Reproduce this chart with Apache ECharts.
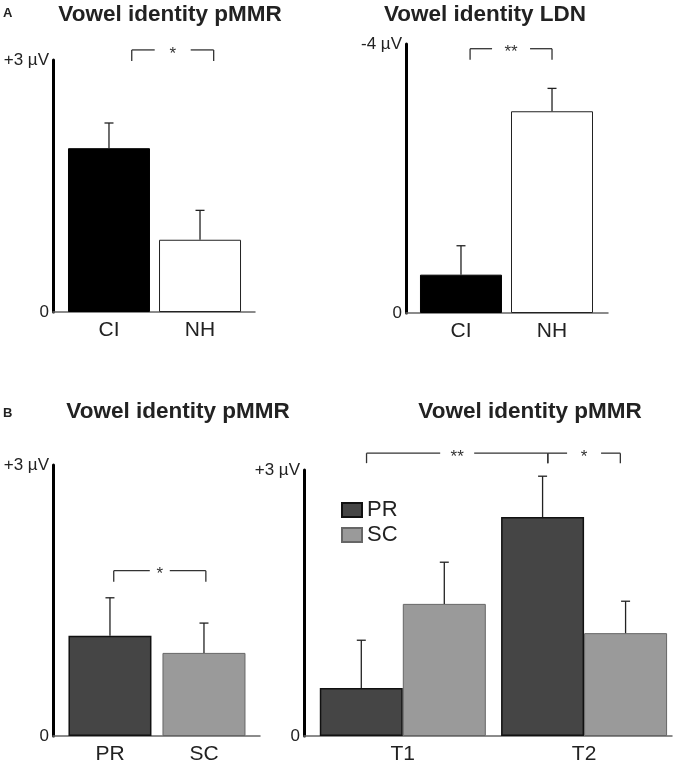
<!DOCTYPE html>
<html>
<head>
<meta charset="utf-8">
<script src="https://cdn.jsdelivr.net/npm/echarts@6/dist/echarts.min.js"></script>
<style>html,body{margin:0;padding:0;background:#fff}#c{width:675px;height:770px}</style>
</head>
<body>
<div id="c"></div>
<script>
// ---- data ----
const groupCats = ['CI', 'NH'];
const pmmrGroup = [1.95, 0.86];
const pmmrGroupErr = [0.30, 0.35];
const ldnGroup = [-0.57, -3.0];
const ldnGroupErr = [0.43, 0.34];
const trainCats = ['PR', 'SC'];
const pmmrTrain = [1.11, 0.92];
const pmmrTrainErr = [0.42, 0.33];
const sessionCats = ['T1', 'T2'];
const prBySession = [0.54, 2.47];
const prBySessionErr = [0.54, 0.46];
const scBySession = [1.49, 1.16];
const scBySessionErr = [0.47, 0.36];
const pmmrTicks = {0: '0', 3: '+3 µV'};
const ldnTicks = {0: '0', '-4': '-4 µV'};
const bracketsA1 = [[0.25, 1.15, 3.12]], bracketsA1Labels = ['*'];
const bracketsA2 = [[0.1, 1.0, -3.93]], bracketsA2Labels = ['**'];
const bracketsB1 = [[0.04, 1.02, 1.83]], bracketsB1Labels = ['*'];
const bracketsB2 = [[-0.2, 0.8, 3.19], [0.8, 1.2, 3.19]], bracketsB2Labels = ['**', '*'];

// ---- styles ----
const FONT = '"Liberation Sans", Arial, Helvetica, sans-serif';
const TXT = '#222';

function xAx(gi, cats, min, max) {
  return {
    type: 'value', gridIndex: gi, min: min, max: max, position: 'bottom',
    axisLine: {show: true, onZero: false, lineStyle: {color: '#666', width: 1.5}},
    axisTick: {show: false}, splitLine: {show: false},
    axisLabel: {
      fontSize: 21, color: TXT, fontFamily: FONT, margin: 8,
      formatter: function (v) {
        const r = Math.round(v);
        return (Math.abs(v - r) < 1e-6 && cats[r] !== undefined) ? cats[r] : '';
      }
    }
  };
}
function yAx(gi, min, max, ticks, inverse) {
  return {
    type: 'value', gridIndex: gi, min: min, max: max, interval: Math.abs(max - min), inverse: !!inverse,
    axisLine: {show: true, onZero: false, lineStyle: {color: '#000', width: 3}},
    axisTick: {show: false}, splitLine: {show: false},
    axisLabel: {fontSize: 17, color: TXT, fontFamily: FONT, margin: 4,
      formatter: function (v) { return ticks[v] !== undefined ? ticks[v] : ''; }}
  };
}
function errSeries(gi, vals, errs, offsetPx) {
  return {
    type: 'custom', xAxisIndex: gi, yAxisIndex: gi, z: 5, silent: true,
    data: vals.map(function (v, i) { return [i, v, errs[i]]; }),
    encode: {x: 0, y: 1},
    renderItem: function (params, api) {
      const x = api.value(0), v = api.value(1), e = api.value(2);
      const end = v + Math.sign(v) * e;
      const p0 = api.coord([x, v]), p1 = api.coord([x, end]);
      const cx = p0[0] + offsetPx;
      const st = {stroke: '#222', lineWidth: 1.3};
      return {type: 'group', children: [
        {type: 'line', shape: {x1: cx, y1: p0[1], x2: cx, y2: p1[1]}, style: st},
        {type: 'line', shape: {x1: cx - 4.5, y1: p1[1], x2: cx + 4.5, y2: p1[1]}, style: st}
      ]};
    }
  };
}
function bracketSeries(gi, data, labels, gap, down) {
  return {
    type: 'custom', xAxisIndex: gi, yAxisIndex: gi, z: 6, silent: true, clip: false,
    data: data, encode: {x: [0, 1], y: 2},
    renderItem: function (params, api) {
      const a = api.coord([api.value(0), api.value(2)]);
      const b = api.coord([api.value(1), api.value(2)]);
      const y = a[1], mid = (a[0] + b[0]) / 2;
      const st = {stroke: '#333', lineWidth: 1.3};
      return {type: 'group', children: [
        {type: 'line', shape: {x1: a[0], y1: y, x2: mid - gap, y2: y}, style: st},
        {type: 'line', shape: {x1: mid + gap, y1: y, x2: b[0], y2: y}, style: st},
        {type: 'line', shape: {x1: a[0], y1: y, x2: a[0], y2: y + down}, style: st},
        {type: 'line', shape: {x1: b[0], y1: y, x2: b[0], y2: y + down}, style: st},
        {type: 'text', x: mid, y: y + 4, style: {text: labels[params.dataIndex], font: '17px ' + FONT,
          fill: '#333', align: 'center', verticalAlign: 'middle', textAlign: 'center', textVerticalAlign: 'middle'}}
      ]};
    }
  };
}
function titleAt(text, x, top, size) {
  return {text: text, left: x, top: top, textAlign: 'center', padding: 0,
    textStyle: {fontSize: size, fontWeight: 'bold', color: TXT, fontFamily: FONT}};
}

const groupStyles = [
  {color: '#000', borderColor: '#000', borderWidth: 1},
  {color: '#fff', borderColor: '#222', borderWidth: 1}
];
const prStyle = {color: '#454545', borderColor: '#111', borderWidth: 1.5};
const scStyle = {color: '#9a9a9a', borderColor: '#666', borderWidth: 1};

const option = {
  animation: false,
  backgroundColor: '#fff',
  textStyle: {fontFamily: FONT},
  title: [
    {text: 'A', left: 3, top: 7, padding: 0, textStyle: {fontSize: 13, fontWeight: 'bold', color: TXT, fontFamily: FONT}},
    titleAt('Vowel identity pMMR', 170, 3, 22.5),
    titleAt('Vowel identity LDN', 485, 3, 22.5),
    {text: 'B', left: 3, top: 407, padding: 0, textStyle: {fontSize: 13, fontWeight: 'bold', color: TXT, fontFamily: FONT}},
    titleAt('Vowel identity pMMR', 178, 400, 22.5),
    titleAt('Vowel identity pMMR', 530, 400, 22.5)
  ],
  legend: {
    data: ['PR', 'SC'], left: 336, top: 494, orient: 'vertical', icon: 'rect',
    itemWidth: 20, itemHeight: 14, itemGap: 3, selectedMode: false,
    textStyle: {fontSize: 22, color: TXT, fontFamily: FONT}
  },
  grid: [
    {left: 53, top: 60, width: 202, height: 252},
    {left: 406, top: 44, width: 202, height: 269},
    {left: 53, top: 465, width: 207, height: 271},
    {left: 304, top: 470, width: 369, height: 266}
  ],
  xAxis: [
    xAx(0, groupCats, -0.615, 1.604),
    xAx(1, groupCats, -0.604, 1.615),
    xAx(2, trainCats, -0.606, 1.596),
    xAx(3, sessionCats, -0.545, 1.485)
  ],
  yAxis: [
    yAx(0, 0, 3, pmmrTicks),
    yAx(1, -4, 0, ldnTicks, true),
    yAx(2, 0, 3, pmmrTicks),
    yAx(3, 0, 3, pmmrTicks)
  ],
  series: [
    {type: 'bar', name: 'pMMR group', xAxisIndex: 0, yAxisIndex: 0, barWidth: 82,
      data: pmmrGroup.map(function (v, i) { return {value: [i, v], itemStyle: groupStyles[i]}; })},
    errSeries(0, pmmrGroup, pmmrGroupErr, 0),
    bracketSeries(0, bracketsA1, bracketsA1Labels, 18, 11),
    {type: 'bar', name: 'LDN group', xAxisIndex: 1, yAxisIndex: 1, barWidth: 82,
      data: ldnGroup.map(function (v, i) { return {value: [i, v], itemStyle: groupStyles[i]}; })},
    errSeries(1, ldnGroup, ldnGroupErr, 0),
    bracketSeries(1, bracketsA2, bracketsA2Labels, 19, 11),
    {type: 'bar', name: 'pMMR training', xAxisIndex: 2, yAxisIndex: 2, barWidth: 83,
      data: pmmrTrain.map(function (v, i) { return {value: [i, v], itemStyle: i === 0 ? prStyle : scStyle}; })},
    errSeries(2, pmmrTrain, pmmrTrainErr, 0),
    bracketSeries(2, bracketsB1, bracketsB1Labels, 10, 11),
    {type: 'bar', name: 'PR', xAxisIndex: 3, yAxisIndex: 3, barWidth: 83, barGap: '0%', itemStyle: prStyle,
      data: prBySession.map(function (v, i) { return [i, v]; })},
    {type: 'bar', name: 'SC', xAxisIndex: 3, yAxisIndex: 3, barWidth: 83, barGap: '0%', itemStyle: scStyle,
      data: scBySession.map(function (v, i) { return [i, v]; })},
    errSeries(3, prBySession, prBySessionErr, -41.5),
    errSeries(3, scBySession, scBySessionErr, 41.5),
    bracketSeries(3, bracketsB2, bracketsB2Labels, 17, 10)
  ]
};
const chart = echarts.init(document.getElementById('c'), null, {renderer: 'canvas'});
chart.setOption(option);
</script>
</body>
</html>
